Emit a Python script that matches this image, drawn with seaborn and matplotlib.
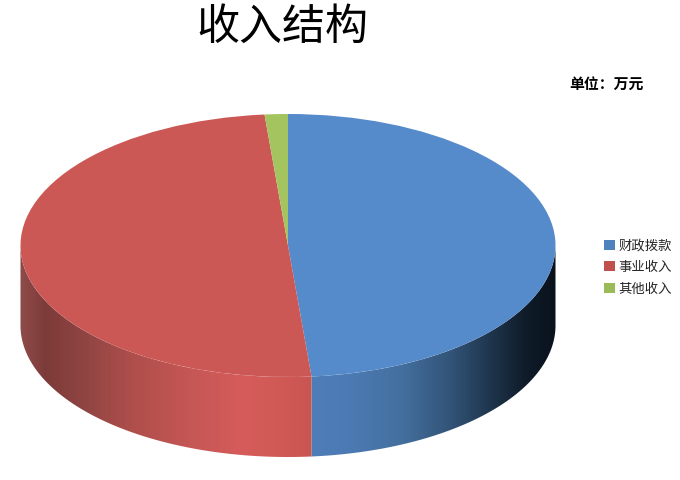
import numpy as np
import matplotlib
matplotlib.use("Agg")
import matplotlib.pyplot as plt
from matplotlib.patches import Patch, Polygon
import seaborn as sns

categories = ["财政拨款", "事业收入", "其他收入"]
values = [48.6, 50.0, 1.4]
title = "收入结构"
unit = "单位：万元"
top_colors = ["#558ACB", "#CC5855", "#A3C45F"]
legend_colors = ["#4F81BD", "#C0504D", "#9BBB59"]

sns.set_theme(style="white")
plt.rcParams["font.family"] = ["Noto Sans CJK SC", "DejaVu Sans"]
palette = sns.color_palette(top_colors)

W, H = 680, 480
cx, cy, rx, ry, depth = 288, 245.5, 267.5, 131.5, 80

fig = plt.figure(figsize=(W / 100, H / 100), dpi=100, facecolor="white")
ax = fig.add_axes([0, 0, 1, 1])
wedges, _ = ax.pie(values, colors=palette, startangle=90, counterclock=False,
                   radius=1, wedgeprops=dict(linewidth=0, zorder=3))
d = depth / ry

# side wall shading, as colour stops along the horizontal pixel position
wall_stops = {
    0: ([312, 350, 400, 450, 490, 525, 555],
        ["#4F7DB8", "#4C7AB3", "#44709F", "#325478", "#1F354D", "#0F1C2A", "#0A121C"]),
    1: ([20, 28, 45, 90, 130, 190, 240, 290, 312],
        ["#8C4C4A", "#8A4644", "#7C3B39", "#934644", "#AE4E4B", "#C55755", "#D55C5A", "#CF5855", "#C85552"]),
    2: ([0, 680], ["#9BBB59", "#9BBB59"]),
}

start = 90.0
total = sum(values)
for i, v in enumerate(values):
    end = start - 360 * v / total
    t0, t1 = sorted((start, end))
    t0r, t1r = max(t0, -180), min(t1, 0)
    if t1r > t0r:
        th = np.deg2rad(np.linspace(t0r, t1r, 300))
        xs, ys = np.cos(th), np.sin(th)
        outline = np.r_[np.c_[xs, ys], np.c_[xs[::-1], ys[::-1] - d]]
        clip = Polygon(outline, closed=True, transform=ax.transData,
                       facecolor="none", edgecolor="none")
        ax.add_patch(clip)
        px = np.arange(0, W)
        stops, cols = wall_stops[i]
        rgb = np.array([matplotlib.colors.to_rgb(c) for c in cols])
        img = np.stack([np.interp(px, stops, rgb[:, k]) for k in range(3)], axis=-1)[None, :, :]
        im = ax.imshow(img, extent=((0 - cx) / rx, (W - cx) / rx, -1 - d - 0.05, 0.1),
                       aspect="auto", origin="lower", interpolation="bilinear", zorder=1)
        im.set_clip_path(clip)
    start = end

ax.set_aspect("auto")
ax.set_xlim((0 - cx) / rx, (W - cx) / rx)
ax.set_ylim((cy - H) / ry, cy / ry)
ax.set_axis_off()

fig.text(282.5 / W, 1 - 28 / H, title, fontsize=31, fontweight="medium", color="black",
         ha="center", va="center")
fig.text(606 / W, 1 - 83.5 / H, unit, fontsize=10.7, fontweight="bold", color="black",
         ha="center", va="center")

handles = [Patch(facecolor=c, edgecolor="none") for c in legend_colors]
fig.legend(handles, categories, loc="center left", bbox_to_anchor=(604 / W, 1 - 267 / H),
           frameon=False, fontsize=9.6, handlelength=0.8, handleheight=0.8,
           handletextpad=0.3, labelspacing=0.58, borderpad=0, borderaxespad=0)

fig.savefig("out.png", dpi=100, facecolor="white")
